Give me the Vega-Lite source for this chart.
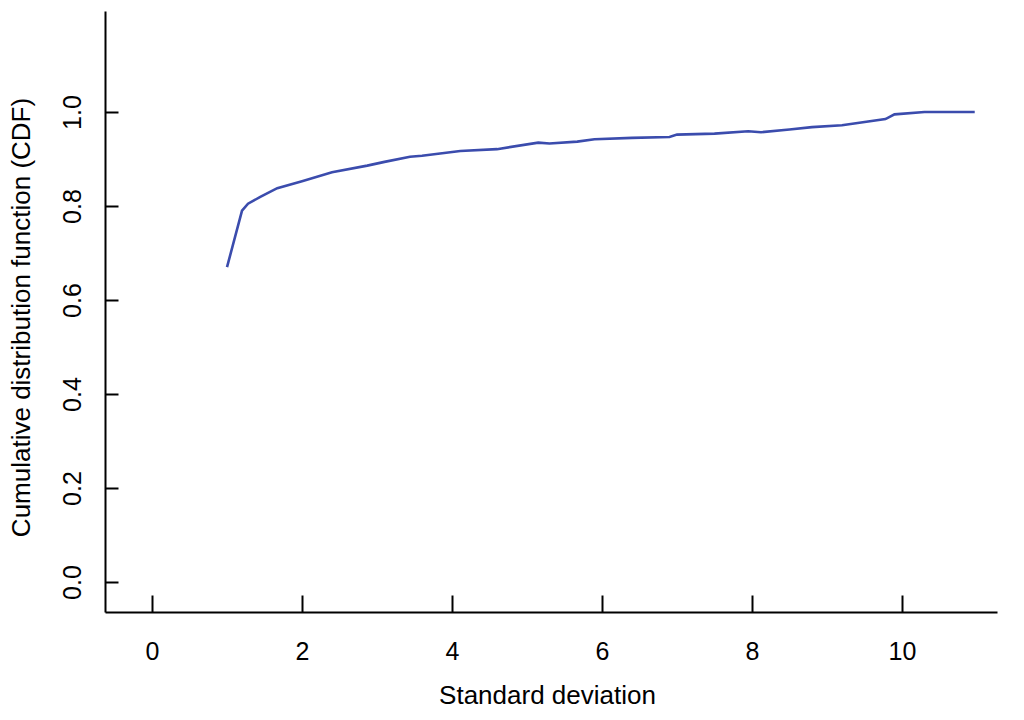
{
  "$schema": "https://vega.github.io/schema/vega-lite/v6.json",
  "width": 892,
  "height": 601,
  "autosize": {"type": "none"},
  "padding": {"left": 105, "top": 11, "right": 27, "bottom": 108},
  "background": "white",
  "config": {
    "view": {"stroke": null},
    "axis": {
      "grid": false,
      "domainColor": "black",
      "domainWidth": 2,
      "tickColor": "black",
      "tickWidth": 2,
      "labelFont": "Liberation Sans",
      "titleFont": "Liberation Sans",
      "labelFontSize": 25,
      "titleFontSize": 26,
      "labelColor": "black",
      "titleColor": "black",
      "titleFontWeight": "normal"
    }
  },
  "data": {
    "values": [
      {"sd": 1.00, "cdf": 0.670},
      {"sd": 1.20, "cdf": 0.790},
      {"sd": 1.28, "cdf": 0.805},
      {"sd": 1.45, "cdf": 0.820},
      {"sd": 1.67, "cdf": 0.838},
      {"sd": 2.00, "cdf": 0.853},
      {"sd": 2.40, "cdf": 0.872},
      {"sd": 2.87, "cdf": 0.886},
      {"sd": 3.10, "cdf": 0.894},
      {"sd": 3.44, "cdf": 0.905},
      {"sd": 3.60, "cdf": 0.907},
      {"sd": 4.11, "cdf": 0.917},
      {"sd": 4.60, "cdf": 0.921},
      {"sd": 5.15, "cdf": 0.935},
      {"sd": 5.30, "cdf": 0.933},
      {"sd": 5.67, "cdf": 0.937},
      {"sd": 5.90, "cdf": 0.942},
      {"sd": 6.40, "cdf": 0.945},
      {"sd": 6.90, "cdf": 0.947},
      {"sd": 7.00, "cdf": 0.952},
      {"sd": 7.50, "cdf": 0.954},
      {"sd": 7.95, "cdf": 0.959},
      {"sd": 8.12, "cdf": 0.957},
      {"sd": 8.50, "cdf": 0.963},
      {"sd": 8.80, "cdf": 0.968},
      {"sd": 9.20, "cdf": 0.972},
      {"sd": 9.78, "cdf": 0.985},
      {"sd": 9.90, "cdf": 0.995},
      {"sd": 10.30, "cdf": 1.000},
      {"sd": 10.97, "cdf": 1.000}
    ]
  },
  "mark": {"type": "line", "color": "#3b4cad", "strokeWidth": 2.6},
  "encoding": {
    "x": {
      "field": "sd",
      "type": "quantitative",
      "scale": {"domain": [-0.627, 11.267], "nice": false, "zero": false},
      "axis": {
        "values": [0, 2, 4, 6, 8, 10],
        "tickSize": -17,
        "labelPadding": 44,
        "title": "Standard deviation",
        "titleX": 442,
        "titleY": 91,
        "titleBaseline": "alphabetic",
        "titleAlign": "center"
      }
    },
    "y": {
      "field": "cdf",
      "type": "quantitative",
      "scale": {"domain": [-0.0638, 1.215], "nice": false, "zero": false},
      "axis": {
        "values": [0, 0.2, 0.4, 0.6, 0.8, 1.0],
        "format": ".1f",
        "tickSize": -13,
        "labelAngle": -90,
        "labelAlign": "center",
        "labelBaseline": "bottom",
        "labelPadding": 33,
        "title": "Cumulative distribution function (CDF)",
        "titleX": -84,
        "titleY": 306,
        "titleAngle": -90,
        "titleBaseline": "middle",
        "titleAlign": "center"
      }
    }
  }
}
